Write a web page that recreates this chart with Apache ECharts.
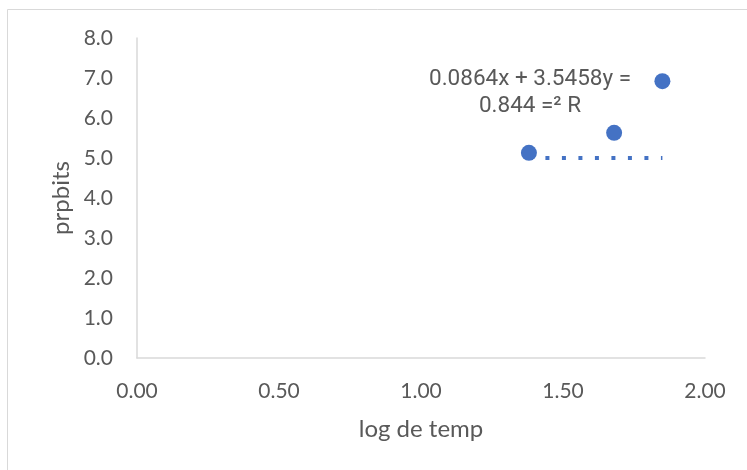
<!DOCTYPE html>
<html>
<head>
<meta charset="utf-8">
<style>
  html, body { margin: 0; padding: 0; background: #ffffff; }
  #chart { width: 747px; height: 470px; }
</style>
<script src="https://cdn.jsdelivr.net/npm/echarts@6/dist/echarts.min.js"></script>
</head>
<body>
<div id="chart"></div>
<script>
// Measured points: log of temperature vs. probit value
const logTemp = [1.38, 1.68, 1.85];
const probits = [5.13, 5.63, 6.92];

// Trend line drawn across the data range
const trendX = [1.38, 1.85];
const trendY = [5.0, 5.0];

// Axis ranges and tick steps
const xTicks = { min: 0, max: 2, step: 0.5 };
const yTicks = { min: 0, max: 8, step: 1 };

// Trend line equation text (two lines)
const equationLines = ['0.0864x + 3.5458y =', '0.844 =² R'];

const axisColor = '#d9d9d9';
const textColor = '#595959';
const font = 'Lato, "Open Sans", sans-serif';

const chart = echarts.init(document.getElementById('chart'), null, { renderer: 'canvas' });

chart.setOption({
  animation: false,
  backgroundColor: '#ffffff',
  grid: { left: 137, right: 42, top: 38, bottom: 112, containLabel: false },
  xAxis: {
    type: 'value',
    min: xTicks.min,
    max: xTicks.max,
    interval: xTicks.step,
    name: 'log de temp',
    nameLocation: 'middle',
    nameGap: 59,
    nameTextStyle: { color: textColor, fontSize: 24, fontFamily: font },
    axisLine: { show: true, lineStyle: { color: axisColor, width: 1.5 } },
    axisTick: { show: false },
    splitLine: { show: false },
    axisLabel: {
      color: textColor, fontSize: 21, fontFamily: font, margin: 23,
      formatter: v => v.toFixed(2)
    }
  },
  yAxis: {
    type: 'value',
    min: yTicks.min,
    max: yTicks.max,
    interval: yTicks.step,
    name: 'prpbits',
    nameLocation: 'middle',
    nameGap: 64,
    nameRotate: 90,
    nameTextStyle: { color: textColor, fontSize: 24, fontFamily: font },
    axisLine: { show: true, lineStyle: { color: axisColor, width: 1.5 } },
    axisTick: { show: false },
    splitLine: { show: false },
    axisLabel: {
      color: textColor, fontSize: 21, fontFamily: font, margin: 24,
      formatter: v => v.toFixed(1)
    }
  },
  graphic: [
    {
      type: 'rect',
      shape: { x: 7.5, y: 9.5, width: 800, height: 500 },
      style: { fill: 'none', stroke: axisColor, lineWidth: 1 },
      silent: true,
      z: -1
    },
    {
      type: 'text',
      x: 530,
      y: 93,
      style: {
        text: equationLines.join('\n'),
        fill: textColor,
        font: '22.5px Roboto, "Noto Sans", sans-serif',
        align: 'center',
        verticalAlign: 'middle',
        lineHeight: 27
      },
      z: 10
    }
  ],
  series: [
    {
      type: 'line',
      data: trendX.map((x, i) => [x, trendY[i]]),
      showSymbol: false,
      symbol: 'none',
      lineStyle: { color: '#4472c4', width: 4, type: [4, 12.5], cap: 'butt', opacity: 1 },
      z: 1
    },
    {
      type: 'scatter',
      data: logTemp.map((x, i) => [x, probits[i]]),
      symbol: 'circle',
      symbolSize: 16,
      itemStyle: { color: '#4472c4', opacity: 1 },
      z: 2
    }
  ]
});
</script>
</body>
</html>
